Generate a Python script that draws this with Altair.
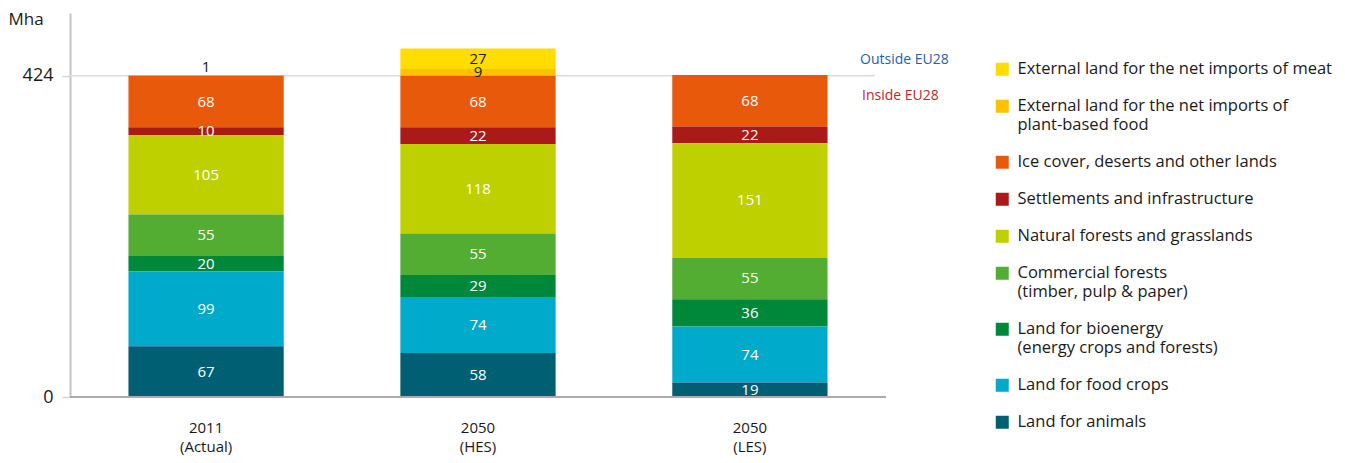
import altair as alt
import pandas as pd

FONT = "Open Sans"

scenarios = ["2011|(Actual)", "2050|(HES)", "2050|(LES)"]
categories = [
    "External land for the net imports of meat",
    "External land for the net imports of|plant-based food",
    "Ice cover, deserts and other lands",
    "Settlements and infrastructure",
    "Natural forests and grasslands",
    "Commercial forests|(timber, pulp & paper)",
    "Land for bioenergy|(energy crops and forests)",
    "Land for food crops",
    "Land for animals",
]
colors = ["#FFDD00", "#FDC200", "#E8590C", "#AA1A18", "#BED000",
          "#53AD33", "#00883A", "#00AACB", "#005F73"]
label_colors = ["#1a1a1a", "#1a1a1a", "white", "white", "white",
                "white", "white", "white", "white"]

v2011 = [0, 1, 68, 10, 105, 55, 20, 99, 67]
vHES = [27, 9, 68, 22, 118, 55, 29, 74, 58]
vLES = [0, 0, 68, 22, 151, 55, 36, 74, 19]

annot_texts = ["Outside EU28", "Inside EU28"]
annot_colors = ["#1D62AF", "#C0282C"]

rows = []
for s, vals in zip(scenarios, [v2011, vHES, vLES]):
    for i, (c, v) in enumerate(zip(categories, vals)):
        rows.append({"scenario": s, "category": c, "value": v,
                     "order": len(categories) - 1 - i, "lc": label_colors[i]})
df = pd.DataFrame(rows)

y_axis = alt.Axis(values=[0, 424], title="Mha", titleAngle=0, titleAlign="left",
                  titleBaseline="middle", titleX=-62, titleY=6, titleFontSize=17,
                  titleFontWeight="normal", titleColor="#1a1a1a", titleFont=FONT,
                  labelFontSize=18, labelFont=FONT, labelColor="#1a1a1a", labelPadding=9,
                  ticks=True, tickSize=8, tickColor="#d6d6d6", tickWidth=1.5,
                  grid=False, domainColor="#c4c4c4", domainWidth=2)
y_scale = alt.Scale(domain=[0, 507], nice=False, zero=True)
x_enc = alt.X("scenario:N", sort=scenarios,
              scale=alt.Scale(paddingInner=0.429, paddingOuter=0.215),
              axis=alt.Axis(title=None, labelExpr="split(datum.label, '|')",
                            labelAngle=0, labelFontSize=15, labelFont=FONT,
                            labelColor="#1a1a1a", labelPadding=23, labelLineHeight=19,
                            ticks=False, domain=False))

base = alt.Chart(df)

bars = base.mark_bar().encode(
    x=x_enc,
    y=alt.Y("value:Q", stack="zero", scale=y_scale, axis=y_axis),
    color=alt.Color("category:N",
                    scale=alt.Scale(domain=categories, range=colors),
                    legend=alt.Legend(title=None, orient="none", legendX=924, legendY=48,
                                      symbolType="square", symbolSize=169,
                                      symbolStrokeWidth=0, labelFontSize=16.5,
                                      labelFont=FONT, labelColor="#1a1a1a",
                                      labelExpr="split(datum.label, '|')",
                                      labelLimit=0, labelOffset=7, rowPadding=20)),
    order=alt.Order("order:Q", sort="ascending"),
)

labels = base.transform_filter("datum.value > 0").transform_stack(
    stack="value", groupby=["scenario"],
    sort=[alt.SortField("order", order="ascending")], as_=["y0", "y1"]
).transform_calculate(
    ymid="datum.value < 3 ? datum.y1 + 11 : (datum.y0 + datum.y1) / 2"
).mark_text(fontSize=15, font=FONT, baseline="middle").encode(
    x=x_enc,
    y=alt.Y("ymid:Q", scale=y_scale, axis=y_axis),
    text="value:Q",
    color=alt.Color("lc:N", scale=None),
)

grid = alt.Chart(pd.DataFrame({"v": [424]})).mark_rule(color="#dcdcdc", strokeWidth=1.5).encode(
    y=alt.Y("v:Q", scale=y_scale, axis=y_axis), x=alt.value(0), x2=alt.value(805))
base_line = alt.Chart(pd.DataFrame({"v": [0]})).mark_rule(color="#ababab", strokeWidth=2).encode(
    y=alt.Y("v:Q", scale=y_scale, axis=y_axis), x=alt.value(0), x2=alt.value(816))

annot_df = pd.DataFrame({"t": annot_texts, "c": annot_colors, "v": [424, 424]})
annot_out = alt.Chart(annot_df.iloc[[0]]).mark_text(
    align="left", baseline="middle", fontSize=14, font=FONT, dy=-16).encode(
    x=alt.value(790), y=alt.Y("v:Q", scale=y_scale, axis=y_axis),
    text="t:N", color=alt.Color("c:N", scale=None))
annot_in = alt.Chart(annot_df.iloc[[1]]).mark_text(
    align="left", baseline="middle", fontSize=14, font=FONT, dy=20).encode(
    x=alt.value(792), y=alt.Y("v:Q", scale=y_scale, axis=y_axis),
    text="t:N", color=alt.Color("c:N", scale=None))

chart = alt.layer(grid, bars, base_line, labels, annot_out, annot_in).properties(
    width=816, height=384,
    autosize=alt.AutoSizeParams(type="none"),
    padding={"left": 62, "top": 5, "right": 451, "bottom": 58},
    background="white",
).configure_view(stroke=None)

chart.save("out.html", embed_options={"renderer": "svg", "actions": False})
